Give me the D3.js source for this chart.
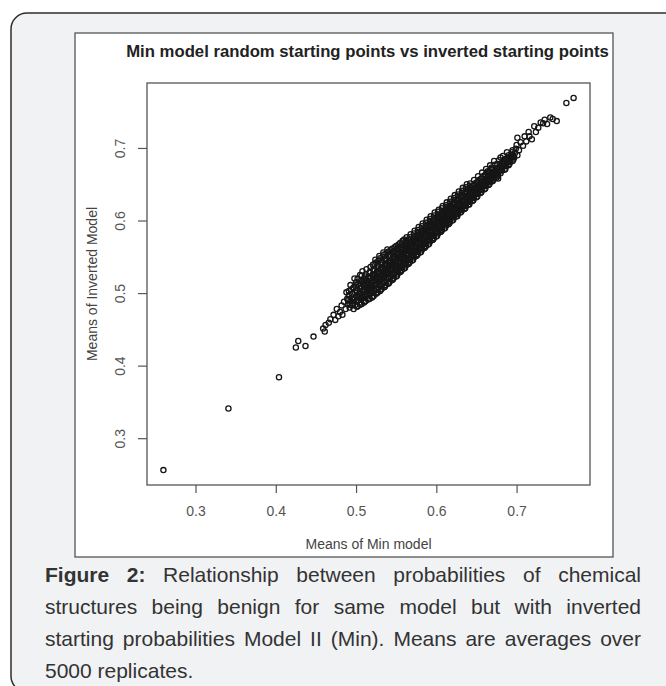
<!DOCTYPE html>
<html><head><meta charset="utf-8">
<script src="https://cdn.jsdelivr.net/npm/d3@7"></script>
<style>body{margin:0;background:#fff}svg{display:block}</style>
</head><body>
<svg id="c" width="666" height="686"></svg>
<script>
const chartTitle = "Min model random starting points vs inverted starting points";
const xLabel = "Means of Min model";
const yLabel = "Means of Inverted Model";
const xTicks = [0.3, 0.4, 0.5, 0.6, 0.7];
const yTicks = [0.3, 0.4, 0.5, 0.6, 0.7];
const captionLines = [
  [["Figure", true], ["2:", true], ["Relationship"], ["between"], ["probabilities"], ["of"], ["chemical"]],
  [["structures"], ["being"], ["benign"], ["for"], ["same"], ["model"], ["but"], ["with"], ["inverted"]],
  [["starting"], ["probabilities"], ["Model"], ["II"], ["(Min)."], ["Means"], ["are"], ["averages"], ["over"]],
  [["5000"], ["replicates."]]
];

// [mean of Min model, mean of inverted model]
const outliersLow = [[.260,.256],[.341,.341],[.404,.384],[.425,.425],[.428,.434],[.437,.427],[.447,.440],[.459,.451],[.461,.447],[.462,.456],[.466,.459],[.468,.464],[.472,.470],[.474,.463],[.476,.478],[.478,.468],[.480,.474],[.482,.483],[.483,.470],[.485,.488]];
const denseBand = [
[.487,.478],[.489,.492],[.488,.501],[.490,.485],[.491,.497],
[.492,.480],[.493,.489],[.494,.505],[.495,.494],[.493,.511],[.496,.486],
[.497,.478],[.498,.491],[.499,.500],[.497,.508],[.500,.515],[.499,.484],[.501,.496],[.498,.520],
[.502,.482],[.503,.490],[.504,.498],[.505,.506],[.503,.513],[.502,.520],[.506,.487],[.505,.525],[.504,.494],[.506,.510],
[.507,.485],[.508,.493],[.509,.501],[.510,.509],[.508,.516],[.507,.524],[.511,.489],[.510,.497],[.509,.513],[.511,.520],[.508,.530],
[.512,.489],[.513,.496],[.514,.503],[.515,.511],[.513,.518],[.512,.526],[.516,.492],[.515,.500],[.514,.508],[.516,.523],[.513,.533],[.515,.515],
[.517,.492],[.518,.499],[.519,.506],[.520,.514],[.518,.521],[.517,.529],[.521,.496],[.520,.503],[.519,.511],[.521,.526],[.518,.536],[.520,.518],[.522,.533],
[.522,.496],[.523,.503],[.524,.510],[.525,.518],[.523,.525],[.522,.533],[.526,.500],[.525,.507],[.524,.514],[.526,.529],[.523,.540],[.525,.522],[.527,.537],[.524,.546],
[.527,.501],[.528,.508],[.529,.515],[.530,.523],[.528,.530],[.527,.538],[.531,.505],[.530,.512],[.529,.519],[.531,.534],[.528,.545],[.530,.527],[.532,.541],[.529,.551],
[.532,.506],[.533,.513],[.534,.520],[.535,.527],[.533,.535],[.532,.543],[.536,.509],[.535,.517],[.534,.524],[.536,.539],[.533,.550],[.535,.531],[.537,.546],[.534,.556],
[.537,.511],[.538,.518],[.539,.525],[.540,.532],[.538,.540],[.537,.548],[.541,.514],[.540,.522],[.539,.529],[.541,.544],[.538,.555],[.540,.536],[.542,.551],[.539,.560],
[.542,.516],[.543,.523],[.544,.530],[.545,.537],[.543,.545],[.542,.553],[.546,.519],[.545,.527],[.544,.534],[.546,.549],[.543,.559],[.545,.541],[.547,.556],
[.547,.521],[.548,.528],[.549,.535],[.550,.542],[.548,.550],[.547,.558],[.551,.524],[.550,.532],[.549,.539],[.551,.554],[.548,.563],[.550,.546],[.552,.560],
[.552,.527],[.553,.533],[.554,.540],[.555,.547],[.553,.555],[.552,.562],[.556,.530],[.555,.537],[.554,.544],[.556,.559],[.553,.567],[.555,.551],[.557,.564],
[.557,.532],[.558,.538],[.559,.545],[.560,.552],[.558,.560],[.557,.567],[.561,.535],[.560,.542],[.559,.549],[.561,.564],[.558,.572],[.560,.556],[.562,.569],
[.562,.538],[.563,.544],[.564,.551],[.565,.558],[.563,.565],[.562,.572],[.566,.541],[.565,.548],[.564,.555],[.566,.569],[.563,.577],[.565,.561],
[.567,.543],[.568,.549],[.569,.556],[.570,.563],[.568,.570],[.567,.577],[.571,.546],[.570,.553],[.569,.560],[.571,.574],[.568,.581],[.570,.566],
[.572,.549],[.573,.555],[.574,.561],[.575,.568],[.573,.575],[.572,.582],[.576,.552],[.575,.558],[.574,.565],[.576,.579],[.573,.586],[.575,.571],
[.577,.554],[.578,.560],[.579,.566],[.580,.573],[.578,.580],[.577,.587],[.581,.557],[.580,.563],[.579,.570],[.581,.584],[.578,.591],[.580,.576],
[.582,.560],[.583,.566],[.584,.572],[.585,.578],[.583,.585],[.582,.592],[.586,.563],[.585,.569],[.584,.575],[.586,.589],[.583,.596],[.585,.581],
[.587,.565],[.588,.571],[.589,.577],[.590,.583],[.588,.590],[.587,.597],[.591,.568],[.590,.574],[.589,.580],[.591,.594],[.588,.601],[.590,.586],
[.592,.571],[.593,.577],[.594,.583],[.595,.589],[.593,.595],[.592,.602],[.596,.574],[.595,.580],[.594,.586],[.596,.599],[.593,.606],[.595,.592],
[.597,.576],[.598,.582],[.599,.588],[.600,.594],[.598,.600],[.597,.607],[.601,.579],[.600,.585],[.599,.591],[.601,.604],[.598,.611],[.600,.597],
[.602,.582],[.603,.588],[.604,.593],[.605,.599],[.603,.605],[.602,.612],[.606,.585],[.605,.590],[.604,.596],[.606,.609],[.603,.615],[.605,.602],
[.607,.587],[.608,.593],[.609,.598],[.610,.604],[.608,.610],[.607,.617],[.611,.590],[.610,.596],[.609,.601],[.611,.614],[.608,.620],[.610,.607],
[.612,.593],[.613,.598],[.614,.604],[.615,.609],[.613,.615],[.612,.621],[.616,.596],[.615,.601],[.614,.606],[.616,.618],[.613,.625],[.615,.612],
[.617,.598],[.618,.604],[.619,.609],[.620,.614],[.618,.620],[.617,.626],[.621,.601],[.620,.606],[.619,.611],[.621,.623],[.618,.630],[.620,.617],
[.622,.604],[.623,.609],[.624,.614],[.625,.620],[.623,.625],[.622,.631],[.626,.606],[.625,.611],[.624,.617],[.626,.628],[.623,.635],
[.627,.609],[.628,.614],[.629,.619],[.630,.625],[.628,.630],[.627,.636],[.631,.612],[.630,.617],[.629,.622],[.631,.633],[.628,.640],
[.632,.615],[.633,.620],[.634,.625],[.635,.630],[.633,.635],[.632,.641],[.636,.617],[.635,.622],[.634,.627],[.636,.638],[.633,.645],
[.637,.620],[.638,.625],[.639,.630],[.640,.635],[.638,.640],[.637,.646],[.641,.622],[.640,.627],[.639,.632],[.641,.643],[.638,.650],
[.642,.626],[.643,.631],[.644,.636],[.645,.641],[.643,.646],[.642,.651],[.646,.628],[.645,.633],[.644,.638],[.646,.648],
[.647,.631],[.648,.636],[.649,.641],[.650,.646],[.648,.651],[.647,.656],[.651,.633],[.650,.638],[.649,.643],[.651,.653],
[.652,.637],[.653,.642],[.654,.646],[.655,.651],[.653,.656],[.652,.661],[.656,.639],[.655,.644],[.654,.649],[.656,.658],
[.657,.642],[.658,.647],[.659,.651],[.660,.656],[.658,.661],[.657,.666],[.661,.644],[.660,.649],[.659,.654],[.661,.663],
[.662,.648],[.663,.652],[.664,.657],[.665,.661],[.663,.666],[.662,.671],[.666,.650],[.665,.655],[.664,.668],
[.667,.653],[.668,.658],[.669,.662],[.670,.667],[.668,.671],[.667,.676],[.671,.656],[.670,.664],[.669,.673],
[.672,.658],[.673,.663],[.674,.667],[.675,.672],[.673,.677],[.672,.682],[.676,.661],[.675,.669],
[.677,.663],[.678,.668],[.679,.673],[.680,.678],[.678,.683],[.677,.658],[.681,.675],[.680,.687],
[.682,.669],[.683,.674],[.684,.679],[.685,.684],[.683,.689],[.686,.671],[.685,.681],
[.687,.675],[.688,.680],[.689,.685],[.690,.690],[.688,.694],[.691,.678],
[.692,.681],[.693,.686],[.694,.691],[.695,.697],[.696,.684],
[.697,.687],[.698,.693],[.699,.699],[.701,.690],[.700,.704]
];
const denseCore = [
[.490,.490],[.491,.503],[.492,.484],
[.495,.499],[.496,.491],[.497,.507],[.495,.483],
[.500,.488],[.501,.504],[.502,.495],[.500,.511],[.501,.481],
[.505,.484],[.506,.493],[.505,.501],[.507,.508],[.506,.517],[.507,.497],
[.510,.487],[.511,.494],[.510,.505],[.512,.512],[.511,.523],[.512,.499],[.510,.516],
[.515,.491],[.516,.498],[.515,.506],[.517,.513],[.516,.520],[.517,.528],[.515,.502],
[.520,.494],[.521,.501],[.520,.509],[.522,.516],[.521,.523],[.522,.530],[.520,.506],[.521,.539],
[.525,.499],[.526,.505],[.525,.513],[.527,.520],[.526,.527],[.527,.534],[.525,.542],[.526,.516],
[.530,.503],[.531,.510],[.530,.518],[.532,.525],[.531,.532],[.532,.539],[.530,.548],[.531,.521],
[.535,.508],[.536,.515],[.535,.522],[.537,.529],[.536,.537],[.537,.544],[.535,.553],[.536,.533],
[.540,.513],[.541,.520],[.540,.527],[.542,.534],[.541,.542],[.542,.549],[.540,.557],[.541,.538],
[.545,.518],[.546,.525],[.545,.532],[.547,.539],[.546,.547],[.547,.553],[.545,.561],[.546,.543],
[.550,.523],[.551,.530],[.550,.537],[.552,.544],[.551,.552],[.552,.557],[.550,.565],[.551,.548],
[.555,.529],[.556,.535],[.555,.542],[.557,.549],[.556,.557],[.557,.562],[.555,.569],[.556,.553],
[.560,.534],[.561,.540],[.560,.547],[.562,.554],[.561,.562],[.562,.566],[.560,.574],[.561,.558],
[.565,.540],[.566,.546],[.565,.553],[.567,.560],[.566,.567],[.567,.573],[.565,.564],
[.570,.545],[.571,.551],[.570,.558],[.572,.565],[.571,.572],[.572,.578],[.570,.569],
[.575,.551],[.576,.557],[.575,.563],[.577,.570],[.576,.577],[.577,.583],[.575,.574],
[.580,.556],[.581,.562],[.580,.568],[.582,.575],[.581,.582],[.582,.588],[.580,.579],
[.585,.562],[.586,.568],[.585,.574],[.587,.580],[.586,.587],[.587,.593],[.585,.584],
[.590,.567],[.591,.573],[.590,.579],[.592,.585],[.591,.592],[.592,.598],[.590,.589],
[.595,.573],[.596,.579],[.595,.585],[.597,.591],[.596,.597],[.597,.603],[.595,.594],
[.600,.578],[.601,.584],[.600,.590],[.602,.596],[.601,.602],[.602,.608],[.600,.599],
[.605,.584],[.606,.589],[.605,.595],[.607,.601],[.606,.607],[.607,.613],[.605,.604],
[.610,.589],[.611,.595],[.610,.600],[.612,.606],[.611,.612],[.612,.618],[.610,.609],
[.615,.595],[.616,.600],[.615,.605],[.617,.611],[.616,.617],[.617,.623],[.615,.614],
[.620,.600],[.621,.605],[.620,.610],[.622,.616],[.621,.622],[.622,.628],[.620,.619],
[.625,.606],[.626,.610],[.625,.616],[.627,.622],[.626,.627],[.627,.633],
[.630,.611],[.631,.616],[.630,.621],[.632,.627],[.631,.632],[.632,.638],
[.635,.616],[.636,.621],[.635,.626],[.637,.632],[.636,.637],[.637,.643],
[.640,.622],[.641,.626],[.640,.631],[.642,.637],[.641,.642],[.642,.648],
[.645,.627],[.646,.632],[.645,.637],[.647,.643],[.646,.647],
[.650,.632],[.651,.637],[.650,.642],[.652,.648],[.651,.652],
[.655,.638],[.656,.643],[.655,.648],[.657,.653],[.656,.657],
[.660,.643],[.661,.648],[.660,.653],[.662,.658],[.661,.662],
[.665,.649],[.666,.653],[.665,.658],[.667,.663],[.666,.667],
[.670,.654],[.671,.659],[.670,.663],[.672,.668],[.671,.672],
[.675,.659],[.676,.664],[.675,.668],[.677,.673],[.676,.678],
[.680,.665],[.681,.670],[.680,.674],[.682,.680],
[.685,.670],[.686,.676],[.685,.679],[.687,.685],
[.690,.676],[.691,.682],[.690,.686],
[.695,.682],[.696,.689],[.694,.694]
];
const sparseHigh = [[.703,.697],[.701,.714],[.705,.708],[.708,.703],[.710,.716],[.712,.709],[.716,.716],[.715,.722],[.719,.712],[.722,.730],[.724,.722],[.727,.728],[.730,.735],[.733,.734],[.735,.739],[.738,.733],[.742,.742],[.745,.740],[.750,.737],[.762,.762],[.771,.769]];

const allPoints = outliersLow.concat(denseBand, denseCore, sparseHigh);
const FONT = "'Liberation Sans', Arial, Helvetica, sans-serif";
const svg = d3.select("#c");

// card
svg.append("rect").attr("x", 11).attr("y", 13).attr("width", 700).attr("height", 679)
  .attr("rx", 16).attr("fill", "#f1f2f4").attr("stroke", "#2e2e2e").attr("stroke-width", 1.5);
// white figure box
svg.append("rect").attr("x", 75).attr("y", 33).attr("width", 538).attr("height", 524)
  .attr("fill", "#fff").attr("stroke", "#555").attr("stroke-width", 1.3);

const plot = {l: 147, r: 590, t: 83, b: 485};
function padExtent(vals) {
  const e = d3.extent(vals), p = (e[1] - e[0]) * 0.04;
  return [e[0] - p, e[1] + p];
}
const x = d3.scaleLinear().domain(padExtent(allPoints.map(d => d[0]))).range([plot.l, plot.r]);
const y = d3.scaleLinear().domain(padExtent(allPoints.map(d => d[1]))).range([plot.b, plot.t]);

// points
svg.append("g").selectAll("circle").data(allPoints).join("circle")
  .attr("cx", d => x(d[0])).attr("cy", d => y(d[1])).attr("r", 2.6)
  .attr("fill", "none").attr("stroke", "#161616").attr("stroke-width", 1.3);

// axes
const gx = svg.append("g").attr("transform", `translate(0,${plot.b})`)
  .call(d3.axisBottom(x).tickValues(xTicks).tickSize(8).tickFormat(d3.format(".1f")));
gx.select(".domain").remove();
gx.selectAll("line").attr("stroke", "#555").attr("stroke-width", 1.2);
gx.selectAll("text").attr("y", 31).attr("dy", 0).attr("fill", "#555")
  .style("font-family", FONT).style("font-size", "14px");

const gy = svg.append("g").attr("transform", `translate(${plot.l},0)`)
  .call(d3.axisLeft(y).tickValues(yTicks).tickSize(9).tickFormat(d3.format(".1f")));
gy.select(".domain").remove();
gy.selectAll("line").attr("stroke", "#555").attr("stroke-width", 1.2);
gy.selectAll("text").attr("x", 0).attr("y", 0).attr("dy", 0).attr("text-anchor", "middle")
  .attr("transform", "translate(-22,0) rotate(-90)").attr("fill", "#555")
  .style("font-family", FONT).style("font-size", "14px");

// plot box
svg.append("rect").attr("x", plot.l).attr("y", plot.t).attr("width", plot.r - plot.l).attr("height", plot.b - plot.t)
  .attr("fill", "none").attr("stroke", "#555").attr("stroke-width", 1.3);

// title
const title = svg.append("text").attr("x", 367.5).attr("y", 57).attr("text-anchor", "middle")
  .attr("fill", "#222").style("font-family", FONT).style("font-weight", "bold").style("font-size", "16px")
  .text(chartTitle);
const tw = title.node().getComputedTextLength();
title.style("font-size", (16 * 483 / tw) + "px");

// axis labels
svg.append("text").attr("x", (plot.l + plot.r) / 2).attr("y", 549).attr("text-anchor", "middle")
  .attr("fill", "#444").style("font-family", FONT).style("font-size", "14px").text(xLabel);
svg.append("text").attr("transform", `translate(97,${(plot.t + plot.b) / 2}) rotate(-90)`).attr("text-anchor", "middle")
  .attr("fill", "#444").style("font-family", FONT).style("font-size", "14px").text(yLabel);

// caption (justified)
const capL = 45, capR = 641, capTop = 582, capLH = 32;
captionLines.forEach((words, i) => {
  const yy = capTop + i * capLH;
  const nodes = words.map(w => svg.append("text").attr("y", yy).attr("fill", "#333")
    .style("font-family", FONT).style("font-size", "21px").style("font-weight", w[1] ? "bold" : "normal").text(w[0]));
  const widths = nodes.map(n => n.node().getComputedTextLength());
  const total = d3.sum(widths);
  const last = i === captionLines.length - 1;
  const gap = last ? 5.8 : (capR - capL - total) / (words.length - 1);
  let cx = capL;
  nodes.forEach((n, j) => { n.attr("x", cx); cx += widths[j] + gap; });
});
</script>
</body></html>
